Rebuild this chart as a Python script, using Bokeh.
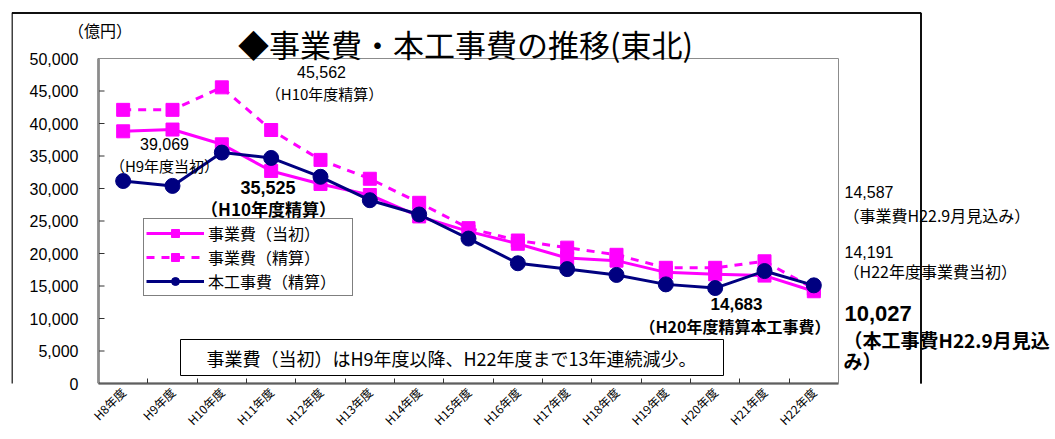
import math
from bokeh.plotting import figure
from bokeh.models import (Range1d, FixedTicker, NumeralTickFormatter, Label,
                          BoxAnnotation, Legend, LegendItem)
from bokeh.embed import file_html
from bokeh.resources import INLINE

# ---------------- data ----------------
categories = ["H8年度", "H9年度", "H10年度", "H11年度", "H12年度", "H13年度", "H14年度",
              "H15年度", "H16年度", "H17年度", "H18年度", "H19年度", "H20年度", "H21年度", "H22年度"]
jigyohi_toushou = [38800, 39069, 36800, 32700, 30700, 29000, 25700, 23400, 21500, 19300,
                   18900, 17100, 16800, 16600, 14191]
jigyohi_seisan = [42100, 42100, 45562, 39000, 34400, 31500, 27800, 23900, 22000, 20900,
                  19800, 17800, 17800, 18800, 14587]
honkoji_seisan = [31150, 30400, 35525, 34700, 31800, 28200, 26000, 22300, 18500, 17600,
                  16700, 15250, 14683, 17300, 15100]
y_ticks = list(range(0, 50001, 5000))
honkoji_mikomi = 10027

MAG = "#FF00FF"
NAVY = "#000080"
JP = "Noto Sans CJK JP"
LAT = "Liberation Sans"
AX = "#333333"

W, H = 1055, 439
n = len(categories)
YMAX = 50000
# pixel geometry of the plot area (page pixels)
PX0, PX1, PY0, PY1 = 98, 838, 58, 383
CAT_PX = (PX1 - PX0) / n


def dx(px):
    return (px - PX0) / CAT_PX - 0.5


def dy(py):
    return (PY1 - py) * YMAX / (PY1 - PY0)


LEFT = 11  # outer chart border
p = figure(width=W, height=H, title=None,
           x_range=Range1d(dx(LEFT), dx(W)), y_range=Range1d(0, dy(0)),
           output_backend="svg", toolbar_location=None,
           min_border_left=LEFT, min_border_right=0, min_border_top=0,
           min_border_bottom=H - PY1)
p.background_fill_color = "white"
p.border_fill_color = "white"
p.outline_line_color = None
p.xgrid.visible = False
p.ygrid.visible = False

# x axis
x = list(range(n))
p.xaxis.bounds = (-0.5, n - 0.5)
p.xaxis.ticker = FixedTicker(ticks=x, minor_ticks=[i + 0.5 for i in range(n - 1)])
p.xaxis.major_label_overrides = {i: c for i, c in enumerate(categories)}
p.xaxis.major_label_orientation = math.pi / 4
p.xaxis.major_tick_in = 0
p.xaxis.major_tick_out = 0
p.xaxis.minor_tick_in = 5
p.xaxis.minor_tick_out = 0
p.xaxis.minor_tick_line_color = AX
p.xaxis.axis_line_color = AX
p.xaxis.axis_line_width = 2
p.xaxis.major_label_text_font = JP
p.xaxis.major_label_text_font_size = "12px"
p.xaxis.major_label_text_color = "black"
p.xaxis.major_label_standoff = 6

# y axis (labels sit inward of the chart border)
p.yaxis.bounds = (0, YMAX)
p.yaxis.ticker = FixedTicker(ticks=y_ticks)
p.yaxis.formatter = NumeralTickFormatter(format="0,0")
p.yaxis.major_tick_in = 0
p.yaxis.major_tick_out = 0
p.yaxis.minor_tick_line_color = None
p.yaxis.axis_line_color = None
p.yaxis.major_label_text_font = LAT
p.yaxis.major_label_text_font_size = "16px"
p.yaxis.major_label_text_color = "black"
p.yaxis.major_label_standoff = -(78 - LEFT)

# outer chart-area border
p.add_layout(BoxAnnotation(left=dx(LEFT + 0.5), right=dx(920.5), top=dy(12.5), bottom=dy(480),
                           fill_alpha=0, line_color="black", line_width=1.5, line_alpha=1))
p.segment(x0=[dx(LEFT + 0.5), dx(920.5)], y0=[dy(12.5), dy(12.5)],
          x1=[dx(920.5), dx(920.5)], y1=[dy(12.5), dy(H)], line_color="black", line_width=1.5)

# plot-area border, value axis line and its inward ticks
p.add_layout(BoxAnnotation(left=-0.5, right=n - 0.5, bottom=0, top=YMAX,
                           fill_alpha=0, line_color="#8c8c8c", line_width=1, line_alpha=1))
p.segment(x0=[-0.5], y0=[0], x1=[-0.5], y1=[YMAX], line_color=AX, line_width=2)
p.segment(x0=[-0.5] * len(y_ticks), y0=y_ticks, x1=[-0.5 + 6 / CAT_PX] * len(y_ticks),
          y1=y_ticks, line_color=AX, line_width=1)

# series
r1 = p.line(x, jigyohi_toushou, line_color=MAG, line_width=3)
s1 = p.scatter(x, jigyohi_toushou, marker="square", size=13, fill_color=MAG, line_color=MAG)
r2 = p.line(x, jigyohi_seisan, line_color=MAG, line_width=3, line_dash="8 7")
s2 = p.scatter(x, jigyohi_seisan, marker="square", size=13, fill_color=MAG, line_color=MAG)
r3 = p.line(x, honkoji_seisan, line_color=NAVY, line_width=3)
s3 = p.scatter(x, honkoji_seisan, marker="circle", size=15, fill_color=NAVY, line_color=NAVY)

# note box
p.add_layout(BoxAnnotation(left=dx(180), right=dx(723), top=dy(339), bottom=dy(375),
                           fill_color="white", fill_alpha=1, line_color="black",
                           line_width=1, line_alpha=1))

legend = Legend(items=[LegendItem(label="事業費（当初）", renderers=[r1, s1]),
                       LegendItem(label="事業費（精算）", renderers=[r2, s2]),
                       LegendItem(label="本工事費（精算）", renderers=[r3, s3])],
                location=(143 - LEFT, PY1 - 296), orientation="vertical",
                border_line_color="black", border_line_width=1,
                background_fill_color="white", background_fill_alpha=1,
                label_text_font=JP, label_text_font_size="16px", label_text_color="black",
                glyph_width=58, glyph_height=20, label_height=20, spacing=0,
                padding=2, margin=0, label_standoff=4, label_width=142)
p.add_layout(legend)


def lab(px, py, text, font=JP, size=15, bold=False, align="center"):
    p.add_layout(Label(x=dx(px), y=dy(py), text=text, text_font=font,
                       text_font_size=f"{size}px", text_font_style="bold" if bold else "normal",
                       text_align=align, text_baseline="middle", text_color="black"))


lab(465, 42.5, "◆事業費・本工事費の推移(東北)", size=31)
lab(99.5, 29, "（億円）", size=16)
lab(164, 143.5, f"{jigyohi_toushou[1]:,}", font=LAT, size=16)
lab(164, 165, "（H9年度当初）", size=15)
lab(321, 71.5, f"{jigyohi_seisan[2]:,}", font=LAT, size=16)
lab(324, 93, "（H10年度精算）", size=15)
lab(267.5, 186.5, f"{honkoji_seisan[2]:,}", font=LAT, size=18, bold=True)
lab(268, 208, "（H10年度精算）", size=17, bold=True)
lab(736, 303.5, f"{honkoji_seisan[12]:,}", font=LAT, size=17, bold=True)
lab(734.5, 325, "（H20年度精算本工事費）", size=16, bold=True)
lab(451, 357, "事業費（当初）はH9年度以降、H22年度まで13年連続減少。", size=18)

lab(844, 191.5, f"{jigyohi_seisan[-1]:,}", font=LAT, size=16, align="left")
lab(843, 214.5, "（事業費H22.9月見込み）", size=16, align="left")
lab(844, 251.5, f"{jigyohi_toushou[-1]:,}", font=LAT, size=16, align="left")
lab(843, 270.5, "（H22年度事業費当初）", size=16, align="left")
lab(844, 312.5, f"{honkoji_mikomi:,}", font=LAT, size=22, bold=True, align="left")
lab(843, 338.5, "（本工事費H22.9月見込", size=19, bold=True, align="left")
lab(843, 360, "み）", size=19, bold=True, align="left")

open("out.html", "w").write(file_html(p, INLINE))
